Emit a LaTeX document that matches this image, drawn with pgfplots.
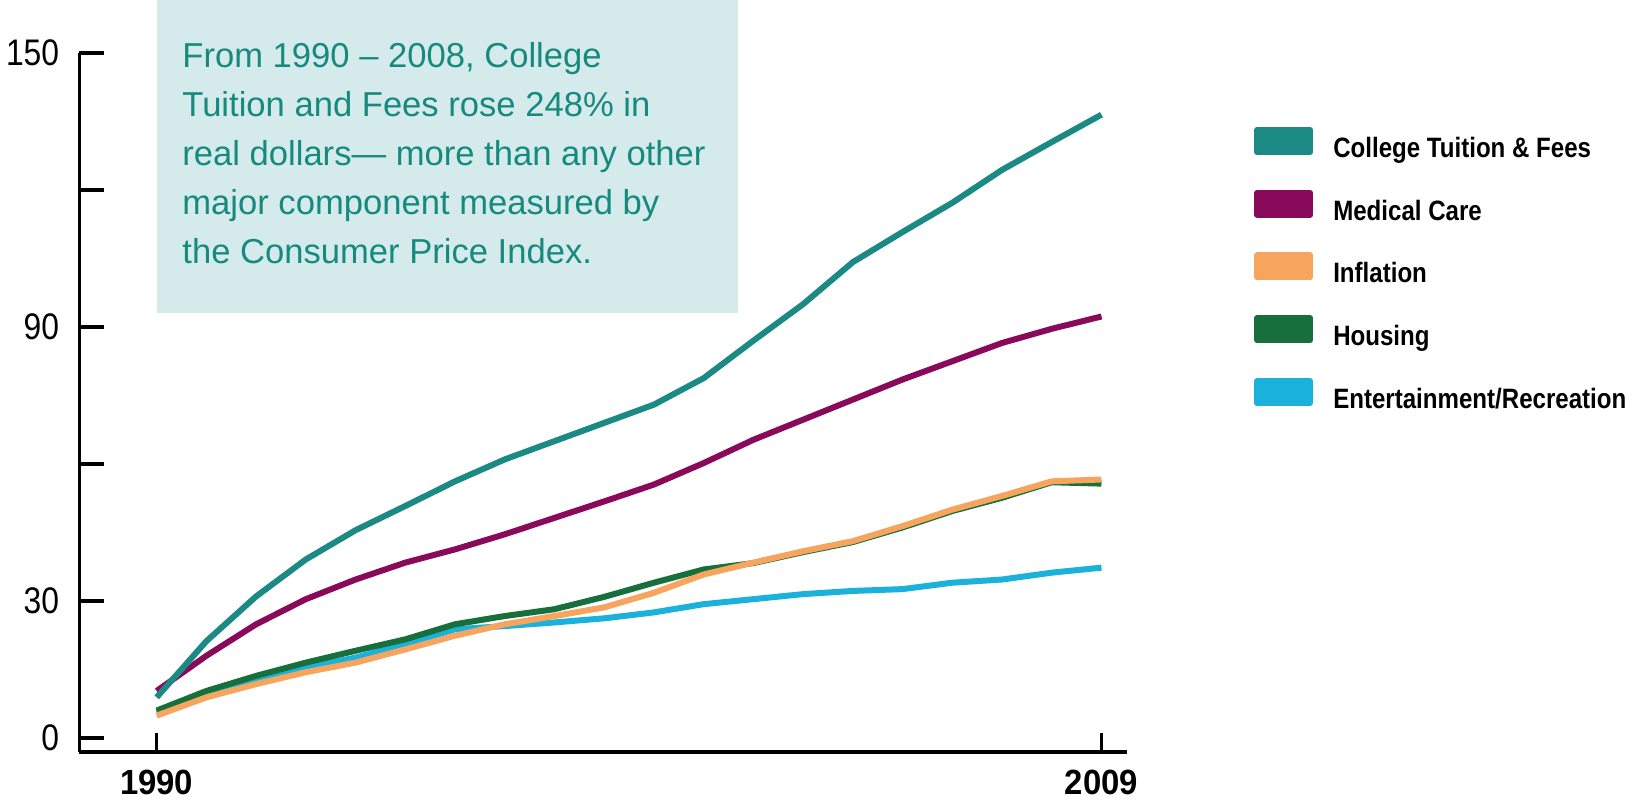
\documentclass[border=0pt]{standalone}
\usepackage{fontspec}
\setmainfont{Liberation Sans}
\newfontfamily\tickfont{Liberation Sans}[FakeStretch=0.86]
\newfontfamily\xfont{Liberation Sans}[FakeStretch=0.94]
\newfontfamily\legfont{Liberation Sans}[FakeStretch=0.86]
\usepackage{pgfplots}
\pgfplotsset{compat=1.18}
\definecolor{tealc}{RGB}{27,138,132}
\definecolor{purplec}{RGB}{137,10,90}
\definecolor{orangec}{RGB}{247,165,94}
\definecolor{greenc}{RGB}{23,112,60}
\definecolor{cyanc}{RGB}{26,178,218}
\definecolor{boxfill}{RGB}{213,234,234}
\definecolor{boxtext}{RGB}{23,138,128}
\begin{document}
\begin{tikzpicture}
\path[use as bounding box] (-39.75pt,-24.5pt) rectangle (784.25pt,376pt);
\fill[boxfill] (38.75pt,219.5pt) rectangle (329.25pt,376pt);
\begin{scope}[every node/.style={anchor=base west, inner sep=0pt, text=boxtext, font=\fontsize{17.3}{24.5}\selectfont}]
\node at (51.25pt,342pt) {From 1990 -- 2008, College};
\node at (51.25pt,317.5pt) {Tuition and Fees rose 248\% in};
\node at (51.25pt,293pt) {real dollars--- more than any other};
\node at (51.25pt,268.5pt) {major component measured by};
\node at (51.25pt,244pt) {the Consumer Price Index.};
\end{scope}
\begin{axis}[
  scale only axis, width=523.75pt, height=349.5pt,
  xmin=1988.448, xmax=2009.513, ymin=-3.07, ymax=150,
  axis lines*=left,
  axis line style={line width=1.8pt, black},
  tick align=inside, major tick length=12.5pt,
  tick style={line width=1.8pt, black},
  xtick style={/pgfplots/major tick length=9.5pt},
  xtick={1990,2009}, xticklabels={1990,2009},
  ytick={0,30,60,90,120,150}, yticklabels={0,30,,90,,150},
  xticklabel style={font=\xfont\bfseries\fontsize{17.5}{18}\selectfont, inner sep=0pt, yshift=-9pt},
  yticklabel style={font=\tickfont\fontsize{18.5}{20}\selectfont, inner sep=0pt, xshift=-10pt},
  /pgf/number format/assume math mode=true,
  legend style={at={(1.1215,0.8943)}, anchor=north west, draw=none, fill=none,
    inner sep=0pt, outer sep=0pt, row sep=13.2pt, column sep=10pt,
    font=\legfont\bfseries\fontsize{14}{15}\selectfont,
    nodes={inner sep=0pt, text height=10pt, text depth=3pt}},
  legend cell align=left,
  legend image code/.code={\fill (0pt,-0.8pt) rectangle (26.5pt,10.2pt);},
  every axis plot/.append style={line width=3pt, line join=round},
]
\addplot[cyanc, forget plot] coordinates {
(1990,5.6) (1991,9.6) (1992,12.5) (1993,15.4) (1994,17.6) (1995,20.5) (1996,23.8) (1997,24.5) (1998,25.3) (1999,26.2)
(2000,27.5) (2001,29.3) (2002,30.4) (2003,31.5) (2004,32.2) (2005,32.6) (2006,34.0) (2007,34.7) (2008,36.2) (2009,37.3)};
\addplot[greenc, forget plot] coordinates {
(1990,6.0) (1991,10.3) (1992,13.6) (1993,16.5) (1994,19.1) (1995,21.6) (1996,24.9) (1997,26.7) (1998,28.2) (1999,30.9)
(2000,34.0) (2001,36.9) (2002,38.3) (2003,40.7) (2004,42.9) (2005,46.1) (2006,49.7) (2007,52.6) (2008,56.0) (2009,55.7)};
\addplot[orangec, forget plot] coordinates {
(1990,4.9) (1991,8.9) (1992,11.8) (1993,14.4) (1994,16.5) (1995,19.4) (1996,22.4) (1997,24.9) (1998,26.7) (1999,28.6)
(2000,31.8) (2001,35.8) (2002,38.4) (2003,40.9) (2004,43.1) (2005,46.4) (2006,50.0) (2007,53.0) (2008,56.2) (2009,56.6)};
\addplot[purplec, forget plot] coordinates {
(1990,10.3) (1991,18.0) (1992,24.9) (1993,30.4) (1994,34.7) (1995,38.4) (1996,41.3) (1997,44.6) (1998,48.2) (1999,51.8)
(2000,55.5) (2001,60.2) (2002,65.3) (2003,69.7) (2004,74.1) (2005,78.5) (2006,82.5) (2007,86.5) (2008,89.6) (2009,92.3)};
\addplot[tealc, forget plot] coordinates {
(1990,8.9) (1991,21.2) (1992,31.0) (1993,39.1) (1994,45.5) (1995,50.8) (1996,56.2) (1997,61.0) (1998,65.0) (1999,69.0)
(2000,73.0) (2001,78.8) (2002,87.0) (2003,95.0) (2004,104.2) (2005,110.8) (2006,117.2) (2007,124.4) (2008,130.5) (2009,136.5)};
\addlegendimage{tealc}
\addlegendentry{College Tuition \& Fees}
\addlegendimage{purplec}
\addlegendentry{Medical Care}
\addlegendimage{orangec}
\addlegendentry{Inflation}
\addlegendimage{greenc}
\addlegendentry{Housing}
\addlegendimage{cyanc}
\addlegendentry{Entertainment/Recreation}
\end{axis}
\end{tikzpicture}
\end{document}
